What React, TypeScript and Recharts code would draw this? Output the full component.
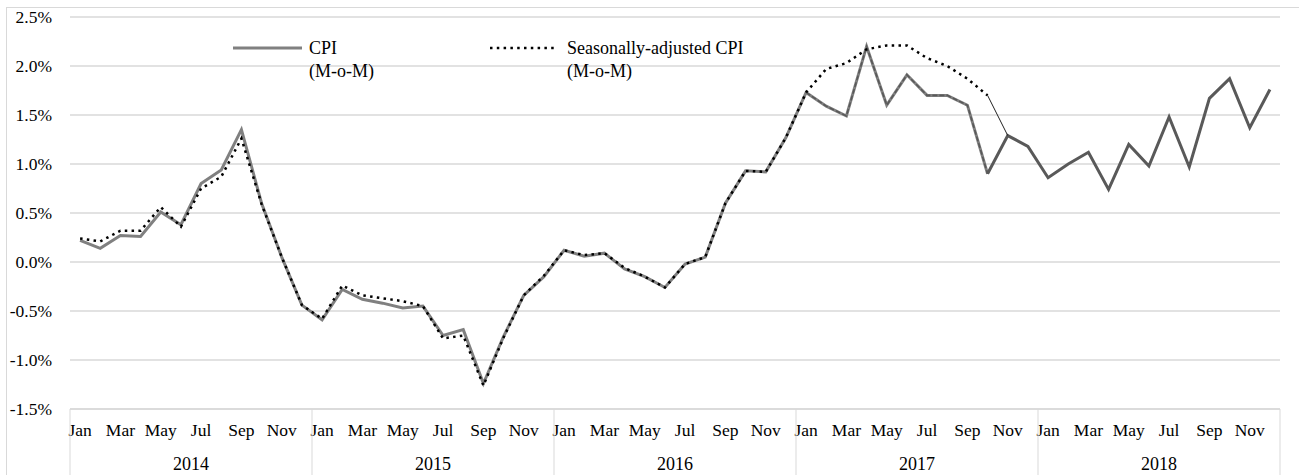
import { LineChart, Line, XAxis, YAxis, CartesianGrid, Legend } from "recharts";

const MONTHS = ["Jan", "Feb", "Mar", "Apr", "May", "Jun", "Jul", "Aug", "Sep", "Oct", "Nov", "Dec"];
const YEARS = ["2014", "2015", "2016", "2017", "2018"];
const Y_TICKS = [-1.5, -1, -0.5, 0, 0.5, 1, 1.5, 2, 2.5];

// CPI month-on-month, Jan 2014 .. Dec 2018 (%)
const cpi = [
  0.22, 0.14, 0.27, 0.26, 0.51, 0.38, 0.8, 0.94, 1.35, 0.6, 0.05, -0.44,
  -0.59, -0.28, -0.38, -0.42, -0.47, -0.45, -0.75, -0.69, -1.24, -0.76, -0.34, -0.15,
  0.12, 0.06, 0.09, -0.07, -0.15, -0.26, -0.02, 0.05, 0.6, 0.93, 0.92, 1.27,
  1.73, 1.59, 1.49, 2.2, 1.6, 1.91, 1.7, 1.7, 1.6, 0.9, 1.29, 1.18,
  0.86, 1.0, 1.12, 0.74, 1.2, 0.98, 1.48, 0.97, 1.67, 1.87, 1.37, 1.76,
];

// seasonally-adjusted CPI, Jan 2014 .. Oct 2017 (%)
const cpiSa = [
  0.24, 0.21, 0.32, 0.32, 0.56, 0.36, 0.75, 0.87, 1.26, 0.59, 0.05, -0.44,
  -0.58, -0.24, -0.34, -0.37, -0.4, -0.45, -0.78, -0.75, -1.26, -0.77, -0.34, -0.14,
  0.12, 0.07, 0.09, -0.06, -0.15, -0.26, -0.02, 0.05, 0.6, 0.93, 0.92, 1.27,
  1.73, 1.97, 2.03, 2.17, 2.21, 2.21, 2.08, 2.0, 1.87, 1.7,
];

const SA_END = cpiSa.length - 1; // Oct 2017
const DARK_FROM = 36; // Jan 2017

const CPI_GRAY = "#808080";
const CPI_DARK = "#595959";
const GRID = "#d9d9d9";
const SERIF = { fontFamily: "Liberation Serif" };

const data = YEARS.flatMap((year, yi) =>
  MONTHS.map((month, mi) => {
    const i = yi * 12 + mi;
    return {
      key: `${year}-${month}`,
      month,
      year,
      cpi: i <= SA_END ? cpi[i] : null,
      cpiDash: i >= DARK_FROM && i <= SA_END ? cpi[i] : null,
      cpiLate: i >= SA_END ? cpi[i] : null,
      sa: i <= SA_END ? cpiSa[i] : null,
      bridge: i === SA_END ? cpiSa[i] : i === SA_END + 1 ? cpi[i] : null,
    };
  })
);

function MonthTick(props: any) {
  const { x, y, payload } = props;
  const i: number = payload.index ?? props.index;
  const half: number = payload.offset ?? 10.08;
  const d = data[i];
  if (!d) return null;
  return (
    <g>
      {i % 2 === 0 && (
        <text x={x} y={y + 27} textAnchor="middle" fontSize={17.5} style={SERIF} fill="#000">
          {d.month}
        </text>
      )}
      {i % 12 === 0 && (
        <line x1={x - half} x2={x - half} y1={y} y2={y + 70} stroke={GRID} strokeWidth={1} />
      )}
      {i % 12 === 5 && (
        <text x={x + half} y={y + 61} textAnchor="middle" fontSize={18} style={SERIF} fill="#000">
          {d.year}
        </text>
      )}
      {i === data.length - 1 && (
        <line x1={x + half} x2={x + half} y1={y} y2={y + 70} stroke={GRID} strokeWidth={1} />
      )}
    </g>
  );
}

function PctTick(props: any) {
  const { x, y, payload } = props;
  return (
    <text x={x} y={y + 6} textAnchor="end" fontSize={17.5} style={SERIF} fill="#000">
      {`${Number(payload.value).toFixed(1)}%`}
    </text>
  );
}

function LegendBox() {
  const text = { fontSize: 18, fill: "#000", style: SERIF };
  return (
    <svg width={900} height={90} style={{ display: "block" }}>
      <line x1={233} x2={302} y1={48} y2={48} stroke={CPI_GRAY} strokeWidth={3} />
      <text x={309} y={54} {...text}>CPI</text>
      <text x={309} y={77} {...text}>(M-o-M)</text>
      <line x1={490} x2={558} y1={48} y2={48} stroke="#000" strokeWidth={2.5} strokeDasharray="2.5 4.3" />
      <text x={567} y={54} {...text}>Seasonally-adjusted CPI</text>
      <text x={567} y={77} {...text}>(M-o-M)</text>
    </svg>
  );
}

export default function App() {
  return (
    <div
      style={{
        position: "absolute",
        left: 0,
        top: 0,
        width: 1299,
        height: 475,
        overflow: "hidden",
        background: "#fff",
      }}
    >
      <div
        style={{
          position: "absolute",
          left: 6,
          top: 7,
          width: 1400,
          height: 600,
          border: `1px solid ${GRID}`,
        }}
      />
      <LineChart
        width={1299}
        height={475}
        data={data}
        margin={{ top: 17, right: 19, left: 0, bottom: 0 }}
      >
        <CartesianGrid vertical={false} stroke={GRID} strokeWidth={1.3} />
        <XAxis
          dataKey="key"
          scale="band"
          height={66}
          interval={0}
          tickSize={0}
          tickMargin={0}
          tickLine={false}
          axisLine={{ stroke: GRID, strokeWidth: 1.3 }}
          tick={<MonthTick />}
        />
        <YAxis
          width={70}
          domain={[-1.5, 2.5]}
          ticks={Y_TICKS}
          interval={0}
          tickSize={0}
          tickMargin={18}
          tickLine={false}
          axisLine={false}
          tick={<PctTick />}
        />
        <Legend
          layout="horizontal"
          verticalAlign="middle"
          align="center"
          content={() => <LegendBox />}
          wrapperStyle={{ position: "absolute", top: 0, left: 0, width: 900, height: 90 }}
        />
        <Line
          dataKey="cpi"
          name="CPI (M-o-M)"
          stroke={CPI_GRAY}
          strokeWidth={3}
          dot={false}
          activeDot={false}
          isAnimationActive={false}
        />
        <Line
          dataKey="cpiDash"
          stroke={CPI_DARK}
          strokeWidth={1.6}
          strokeDasharray="5 2"
          dot={false}
          activeDot={false}
          isAnimationActive={false}
          legendType="none"
        />
        <Line
          dataKey="cpiLate"
          stroke={CPI_DARK}
          strokeWidth={3}
          dot={false}
          activeDot={false}
          isAnimationActive={false}
          legendType="none"
        />
        <Line
          dataKey="bridge"
          stroke="#222"
          strokeWidth={1}
          dot={false}
          activeDot={false}
          isAnimationActive={false}
          legendType="none"
        />
        <Line
          dataKey="sa"
          name="Seasonally-adjusted CPI (M-o-M)"
          stroke="#000"
          strokeWidth={2.5}
          strokeDasharray="2.5 4.3"
          dot={false}
          activeDot={false}
          isAnimationActive={false}
        />
      </LineChart>
    </div>
  );
}
